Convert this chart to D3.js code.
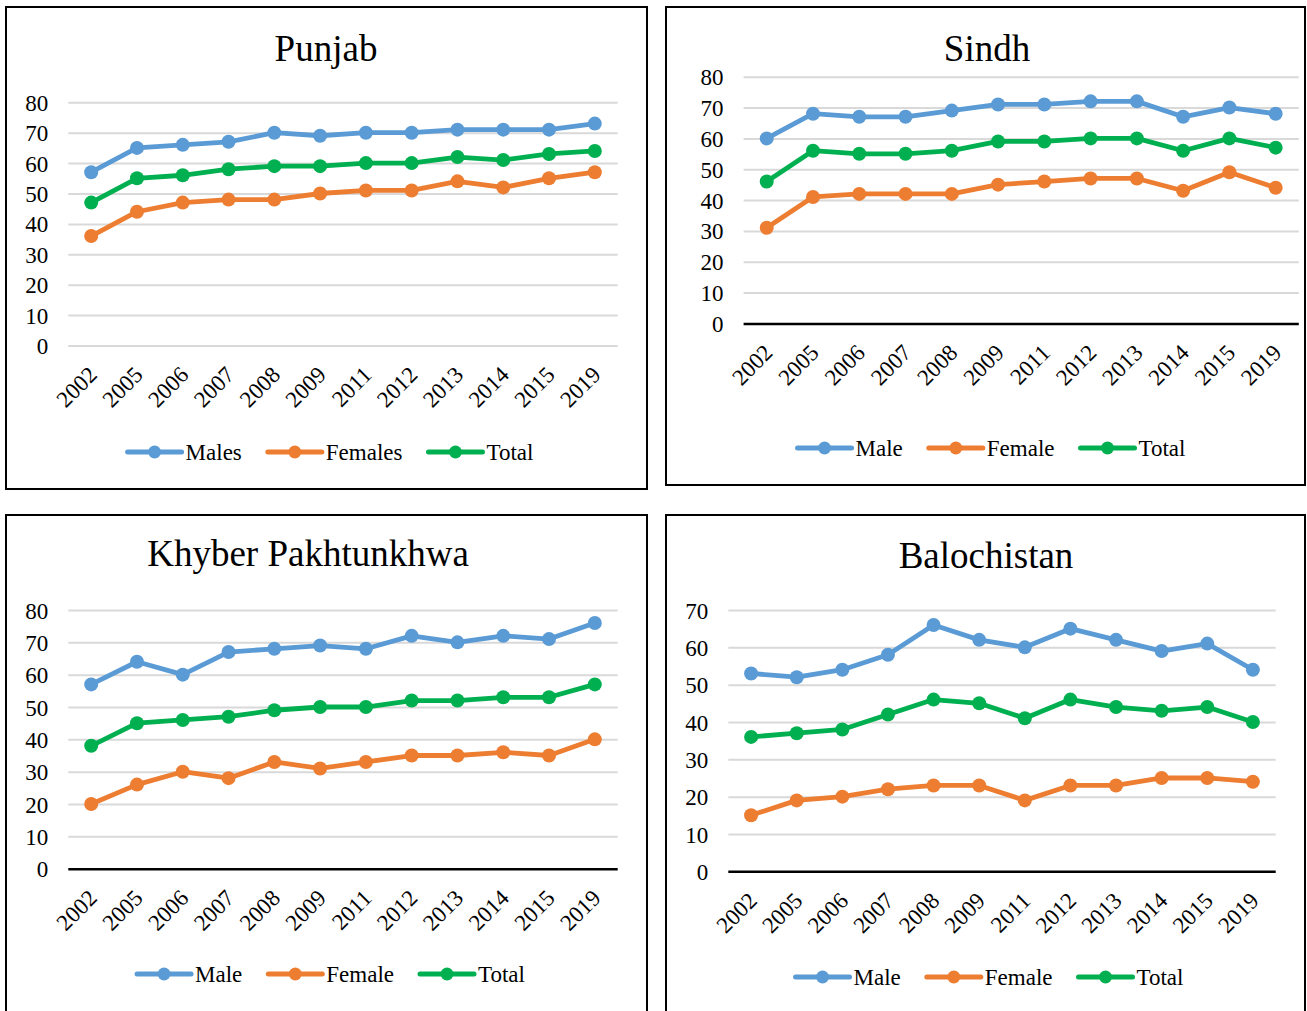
<!DOCTYPE html>
<html><head><meta charset="utf-8">
<script src="https://cdn.jsdelivr.net/npm/d3@7"></script>
<style>
body{margin:0;background:#fff}
svg{display:block}
text{font-family:"Liberation Serif","Times New Roman",serif;fill:#000}
</style>
</head><body>
<svg id="c" width="1307" height="1011"></svg>
<script>
// ---------- data ----------
const years = ["2002","2005","2006","2007","2008","2009","2011","2012","2013","2014","2015","2019"];

const punjabMales   = [57,65,66,67,70,69,70,70,71,71,71,73];
const punjabFemales = [36,44,47,48,48,50,51,51,54,52,55,57];
const punjabTotal   = [47,55,56,58,59,59,60,60,62,61,63,64];

const sindhMale   = [60,68,67,67,69,71,71,72,72,67,70,68];
const sindhFemale = [31,41,42,42,42,45,46,47,47,43,49,44];
const sindhTotal  = [46,56,55,55,56,59,59,60,60,56,60,57];

const kpMale   = [57,64,60,67,68,69,68,72,70,72,71,76];
const kpFemale = [20,26,30,28,33,31,33,35,35,36,35,40];
const kpTotal  = [38,45,46,47,49,50,50,52,52,53,53,57];

const balMale   = [53,52,54,58,66,62,60,65,62,59,61,54];
const balFemale = [15,19,20,22,23,23,19,23,23,25,25,24];
const balTotal  = [36,37,38,42,46,45,41,46,44,43,44,40];

const yTicks80 = [0,10,20,30,40,50,60,70,80];
const yTicks70 = [0,10,20,30,40,50,60,70];

const titles = ["Punjab","Sindh","Khyber Pakhtunkhwa","Balochistan"];
const legendPunjab = ["Males","Females","Total"];
const legendOther  = ["Male","Female","Total"];
const colors = ["#5B9BD5","#ED7D31","#00B050"];

// ---------- layout ----------
const panels = [
  {title:titles[0], series:[punjabMales,punjabFemales,punjabTotal], names:legendPunjab, ticks:yTicks80,
   box:[6,7,647,489], titleX:326, titleY:48, x0:68.3, x1:617.7, yBottom:345.5, yTop:102.3, zeroBlack:false,
   legX:330.5, legY:452},
  {title:titles[1], series:[sindhMale,sindhFemale,sindhTotal], names:legendOther, ticks:yTicks80,
   box:[666,7,1305,485], titleX:987, titleY:48, x0:743.6, x1:1298.8, yBottom:323.4, yTop:76.7, zeroBlack:true,
   legX:991.5, legY:448},
  {title:titles[2], series:[kpMale,kpFemale,kpTotal], names:legendOther, ticks:yTicks80,
   box:[6,515,647,1020], titleX:308, titleY:553, x0:68.3, x1:617.7, yBottom:868.7, yTop:610, zeroBlack:true,
   legX:331, legY:974},
  {title:titles[3], series:[balMale,balFemale,balTotal], names:legendOther, ticks:yTicks70,
   box:[666,515,1305,1020], titleX:986, titleY:555, x0:728.3, x1:1275.7, yBottom:871.3, yTop:610, zeroBlack:true,
   legX:989.5, legY:977}
];

const svg = d3.select("#c");

panels.forEach(p => {
  const g = svg.append("g");
  const [bx0,by0,bx1,by1] = p.box;
  g.append("rect").attr("x",bx0).attr("y",by0).attr("width",bx1-bx0).attr("height",by1-by0)
    .attr("fill","#fff").attr("stroke","#000").attr("stroke-width",2);

  g.append("text").attr("x",p.titleX).attr("y",p.titleY).attr("dy","0.35em")
    .attr("text-anchor","middle").style("font-size","37px").text(p.title);

  const x = d3.scalePoint().domain(years).range([p.x0,p.x1]).padding(0.5);
  const maxT = p.ticks[p.ticks.length-1];
  const y = d3.scaleLinear().domain([0,maxT]).range([p.yBottom,p.yTop]);

  // gridlines + y labels
  const ya = d3.axisLeft(y).tickValues(p.ticks).tickSize(-(p.x1-p.x0)).tickPadding(20).tickFormat(d3.format("d"));
  const yg = g.append("g").attr("transform",`translate(${p.x0},0)`).call(ya);
  yg.select(".domain").remove();
  yg.selectAll(".tick line").attr("stroke","#d9d9d9").attr("stroke-width",2);
  yg.selectAll(".tick text").style("font-size","23px").attr("fill","#000").attr("dy","0.35em");
  yg.selectAll(".tick").filter(d=>d===0).select("line")
    .attr("stroke", p.zeroBlack ? "#000" : "#d9d9d9").attr("stroke-width", p.zeroBlack ? 2.5 : 2);

  // x labels
  const xa = d3.axisBottom(x).tickSize(0).tickPadding(0);
  const xg = g.append("g").attr("transform",`translate(0,${p.yBottom})`).call(xa);
  xg.select(".domain").remove();
  xg.selectAll(".tick text")
    .style("font-size","23px").attr("fill","#000")
    .attr("text-anchor","end")
    .attr("y",0).attr("dy","0.35em")
    .attr("transform","translate(1,25) rotate(-45)");

  // series
  const line = d3.line().x((d,i)=>x(years[i])).y(d=>y(d));
  p.series.forEach((s,k) => {
    g.append("path").datum(s).attr("d",line).attr("fill","none")
      .attr("stroke",colors[k]).attr("stroke-width",4.8).attr("stroke-linejoin","round");
    g.selectAll(null).data(s).enter().append("circle")
      .attr("cx",(d,i)=>x(years[i])).attr("cy",d=>y(d)).attr("r",7).attr("fill",colors[k]);
  });

  // legend
  const lg = g.append("g");
  const lineLen = 54, gapText = 4, gapItem = 26;
  let cx = 0;
  p.names.forEach((n,k) => {
    const it = lg.append("g").attr("transform",`translate(${cx},0)`);
    it.append("line").attr("x1",0).attr("x2",lineLen).attr("y1",0).attr("y2",0)
      .attr("stroke",colors[k]).attr("stroke-width",5).attr("stroke-linecap","round");
    it.append("circle").attr("cx",lineLen/2).attr("cy",0).attr("r",6.5).attr("fill",colors[k]);
    const t = it.append("text").attr("x",lineLen+gapText).attr("y",0).attr("dy","0.35em")
      .style("font-size","23px").text(n);
    const w = t.node().getComputedTextLength();
    cx += lineLen + gapText + w + gapItem;
  });
  const total = cx - gapItem;
  lg.attr("transform",`translate(${p.legX - total/2},${p.legY})`);
});
</script>
</body></html>
